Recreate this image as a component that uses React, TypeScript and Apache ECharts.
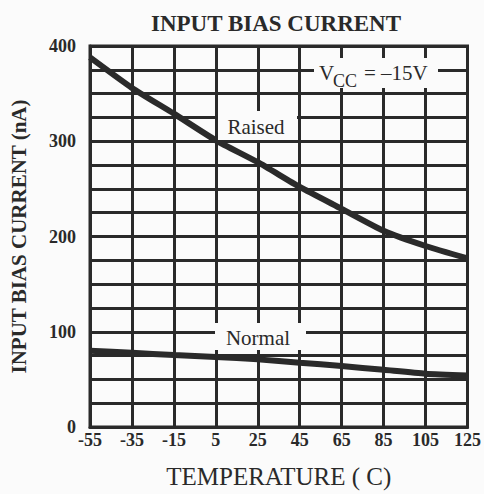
import React, { useEffect, useRef } from "react";
import * as echarts from "echarts";

const temperatures = ["-55", "-35", "-15", "5", "25", "45", "65", "85", "105", "125"];
const raisedCurrent = [388, 356, 329, 301, 278, 252, 229, 206, 190, 177];
const normalCurrent = [80, 78, 75.5, 73.5, 71, 67.5, 64, 60, 56, 54];
const yTickLabels = [0, 100, 200, 300, 400];

const INK = "#2a2a2a";
const BG = "#fbfbfb";
const SERIF = "'Liberation Serif', 'Times New Roman', serif";

export default function App() {
  const ref = useRef<HTMLDivElement>(null);
  useEffect(() => {
    if (!ref.current) return;
    const chart = echarts.init(ref.current, null, { renderer: "svg" });
    const lineStyle = { color: INK, width: 3 };
    chart.setOption({
      animation: false,
      backgroundColor: BG,
      title: {
        text: "INPUT BIAS CURRENT",
        left: 146,
        top: 7,
        textStyle: { fontFamily: SERIF, fontWeight: "bold", fontSize: 23, color: INK },
      },
      grid: {
        left: 85,
        right: 14,
        top: 46,
        bottom: 59,
        show: true,
        borderColor: INK,
        borderWidth: 3,
      },
      xAxis: {
        type: "category",
        data: temperatures,
        boundaryGap: false,
        axisLine: { show: true, lineStyle },
        axisTick: { show: false },
        axisLabel: { color: INK, fontFamily: SERIF, fontWeight: "bold", fontSize: 18, margin: 4 },
        splitLine: { show: true, lineStyle },
        name: "TEMPERATURE ( C)",
        nameLocation: "middle",
        nameGap: 37,
        nameTextStyle: { fontFamily: SERIF, fontSize: 25, color: INK },
      },
      yAxis: {
        type: "value",
        min: 0,
        max: 400,
        interval: 100,
        axisLine: { show: true, lineStyle },
        axisTick: { show: false },
        axisLabel: {
          color: INK,
          fontFamily: SERIF,
          fontWeight: "bold",
          fontSize: 18,
          margin: 14,
          formatter: (v: number) => (yTickLabels.includes(v) ? String(v) : ""),
        },
        splitLine: { show: true, lineStyle },
        minorTick: { show: false, splitNumber: 4 },
        minorSplitLine: { show: true, lineStyle },
        name: "INPUT BIAS CURRENT (nA)",
        nameLocation: "middle",
        nameGap: 61,
        nameRotate: 90,
        nameTextStyle: { fontFamily: SERIF, fontWeight: "bold", fontSize: 21, color: INK },
      },
      series: [
        {
          name: "Raised",
          type: "line",
          data: raisedCurrent,
          symbol: "none",
          smooth: 0.2,
          lineStyle: { color: INK, width: 6 },
          z: 5,
        },
        {
          name: "Normal",
          type: "line",
          data: normalCurrent,
          symbol: "none",
          smooth: 0.2,
          lineStyle: { color: INK, width: 6 },
          z: 5,
        },
      ],
      graphic: [
        { type: "rect", z: 50, shape: { x: 218, y: 111, width: 79, height: 29 }, style: { fill: BG } },
        {
          type: "text", z: 51, x: 256, y: 127,
          style: { text: "Raised", fontFamily: SERIF, fontSize: 21, fill: INK, align: "center", verticalAlign: "middle" },
        },
        { type: "rect", z: 50, shape: { x: 215, y: 323, width: 91, height: 27 }, style: { fill: BG } },
        {
          type: "text", z: 51, x: 258, y: 338,
          style: { text: "Normal", fontFamily: SERIF, fontSize: 21, fill: INK, align: "center", verticalAlign: "middle" },
        },
        { type: "rect", z: 50, shape: { x: 314, y: 58, width: 124, height: 30 }, style: { fill: BG } },
        {
          type: "text", z: 51, x: 319, y: 83,
          style: { text: "V", fontFamily: SERIF, fontSize: 21, fill: INK, align: "left", verticalAlign: "bottom" },
        },
        {
          type: "text", z: 51, x: 333, y: 90,
          style: { text: "CC", fontFamily: SERIF, fontSize: 18, fill: INK, align: "left", verticalAlign: "bottom" },
        },
        {
          type: "text", z: 51, x: 364, y: 83,
          style: { text: "= \u201315V", fontFamily: SERIF, fontSize: 21, fill: INK, align: "left", verticalAlign: "bottom" },
        },
      ],
    });
    return () => chart.dispose();
  }, []);
  return (
    <div
      ref={ref}
      style={{ position: "absolute", left: 0, top: 0, width: 484, height: 494, background: BG }}
    />
  );
}
